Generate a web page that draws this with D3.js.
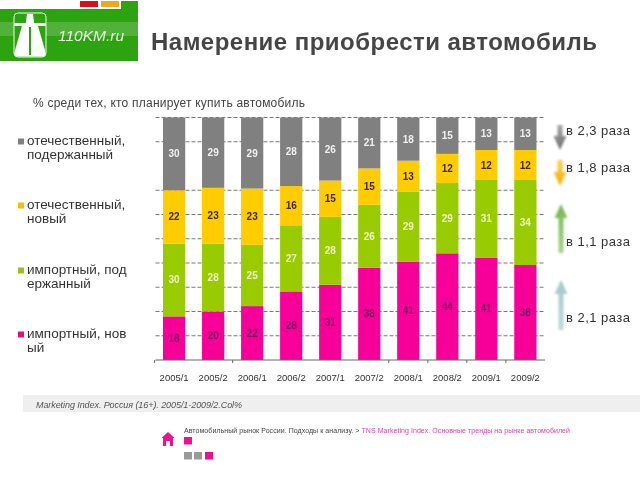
<!DOCTYPE html>
<html><head><meta charset="utf-8">
<script src="https://cdn.jsdelivr.net/npm/d3@7"></script>
<style>html,body{margin:0;padding:0;background:#fff}svg{display:block;filter:blur(0.35px)}text{font-family:"Liberation Sans",Arial,sans-serif}</style>
</head><body><svg id="c" width="640" height="480"></svg>
<script>
const categories=["2005/1","2005/2","2006/1","2006/2","2007/1","2007/2","2008/1","2008/2","2009/1","2009/2"];
const seriesKeys=["importNew","importUsed","domesticNew","domesticUsed"];
const importNew=[18,20,22,28,31,38,41,44,41,38];
const importUsed=[30,28,25,27,28,26,29,29,31,34];
const domesticNew=[22,23,23,16,15,15,13,12,12,12];
const domesticUsed=[30,29,29,28,26,21,18,15,13,13];
const seriesColors=["#f7009a","#99cc00","#ffcc00","#808080"];
const labelColors=["#7a1060","#f2f7d0","#3a2a00","#f0f0f0"];
const gridValues=[10,20,30,40,50,60,70,90,100];
const tickIndexes=[0,2,6,7,8,9];
const legendLines=[["отечественный,","подержанный"],["отечественный,","новый"],["импортный, под","ержанный"],["импортный, нов","ый"]];
const legendColors=["#808080","#f2c200","#a3bd1f","#e0107f"];
const changes=["в 2,3 раза","в 1,8 раза","в 1,1 раза","в 2,1 раза"];
const titleText="Намерение приобрести автомобиль";
const subtitleText="% среди тех, кто планирует купить автомобиль";
const sourceText="Marketing Index. Россия (16+). 2005/1-2009/2.Col%";
const crumbA="Автомобильный рынок России. Подходы к анализу. > ";
const crumbB="TNS Marketing Index. Основные тренды на рынке автомобилей";

const svg=d3.select("#c");
const defs=svg.append("defs");
function grad(id,c1,c2){const g=defs.append("linearGradient").attr("id",id).attr("x1",0).attr("x2",0).attr("y1",0).attr("y2",1);
 g.append("stop").attr("offset","0").attr("stop-color",c1);g.append("stop").attr("offset","1").attr("stop-color",c2);}
grad("g1","#a8a8a8","#6e6e6e");grad("g2","#ffd050","#f5b000");grad("g3","#74b850","#a8d488");grad("g4","#a4c8cc","#c0d8dc");

// logo
svg.append("rect").attr("x",0).attr("y",9).attr("width",138).attr("height",52).attr("fill","#2ca40f");
svg.append("rect").attr("x",0).attr("y",22).attr("width",138).attr("height",14).attr("fill","#52b13a");
svg.append("rect").attr("x",80).attr("y",1).attr("width",18).attr("height",6).attr("fill","#d9101a");
svg.append("rect").attr("x",101).attr("y",1).attr("width",18).attr("height",6).attr("fill","#f0a818");
svg.append("rect").attr("x",121).attr("y",1).attr("width",17).attr("height",8).attr("fill","#2ca40f");
svg.append("rect").attr("x",14).attr("y",13).attr("width",32).attr("height",44).attr("rx",4).attr("fill","#2ca40f").attr("stroke","#f0f8ec").attr("stroke-width",1);
svg.append("rect").attr("x",14).attr("y",23).attr("width",32).attr("height",3).attr("fill","#fff");
svg.append("path").attr("d","M27 14L33 14L34.500 26L38 26L45.500 52Q46 56.500 42 56.500L18 56.500Q14 56.500 14.500 52L22 26L25.500 26Z").attr("fill","#fff");
svg.append("rect").attr("x",29).attr("y",27).attr("width",2).attr("height",28).attr("fill","#2ca40f");
svg.append("text").attr("x",58).attr("y",41).attr("fill","#eef6e8").attr("font-size",15.500).attr("font-style","italic").attr("textLength",66).text("110KM.ru");

// titles
svg.append("text").attr("x",151).attr("y",50).attr("fill","#454545").attr("font-size",24).attr("font-weight","bold").attr("textLength",446).text(titleText);
svg.append("text").attr("x",33).attr("y",107).attr("fill","#444").attr("font-size",12).attr("textLength",272).text(subtitleText);

// chart
const x=d3.scaleBand().domain(categories).range([163,536.500]).paddingInner(0.43).paddingOuter(0);
const y=d3.scaleLinear().domain([0,100]).range([360,117.500]);
svg.append("g").selectAll("line").data(gridValues).join("line")
 .attr("x1",155.500).attr("x2",545).attr("y1",d=>y(d)).attr("y2",d=>y(d))
 .attr("stroke","#555").attr("stroke-width",0.8).attr("stroke-dasharray","4 2");
const rows=categories.map((c,i)=>({c,importNew:importNew[i],importUsed:importUsed[i],domesticNew:domesticNew[i],domesticUsed:domesticUsed[i]}));
const stack=d3.stack().keys(seriesKeys).offset(d3.stackOffsetExpand)(rows);
stack.forEach((s,k)=>{
 const g=svg.append("g");
 g.selectAll("rect").data(s).join("rect")
  .attr("x",d=>x(d.data.c)).attr("width",x.bandwidth())
  .attr("y",d=>y(d[1]*100)).attr("height",d=>y(d[0]*100)-y(d[1]*100)).attr("fill",seriesColors[k]);
 g.selectAll("text").data(s).join("text")
  .attr("x",d=>x(d.data.c)+x.bandwidth()/2).attr("y",d=>(y(d[0]*100)+y(d[1]*100))/2+3.500)
  .attr("text-anchor","middle").attr("font-size",10).attr("font-weight","bold").attr("fill",labelColors[k])
  .text(d=>d.data[seriesKeys[k]]);
});
const axis=svg.append("g").attr("transform","translate(0,360)");
axis.append("line").attr("x1",155.500).attr("x2",545).attr("stroke","#666").attr("stroke-width",1);
const step=x.step(),edge=i=>x(categories[i])-(step-x.bandwidth())/2;
axis.selectAll("line.t").data(tickIndexes).join("line").attr("class","t")
 .attr("x1",edge).attr("x2",edge).attr("y1",0).attr("y2",3).attr("stroke","#666");
const ax=svg.append("g").attr("transform","translate(0,374)").call(d3.axisBottom(x).tickSize(0).tickPadding(0));
ax.select(".domain").remove();
ax.selectAll("text").attr("font-size",9.500).attr("fill","#333").attr("font-family",'"Liberation Sans",Arial,sans-serif');

// legend
const legendY=[145,209,274,338];
legendLines.forEach((l,i)=>{
 svg.append("rect").attr("x",18).attr("y",legendY[i]-6.500).attr("width",6).attr("height",6).attr("fill",legendColors[i]);
 l.forEach((t,j)=>svg.append("text").attr("x",27).attr("y",legendY[i]+j*14).attr("font-size",13.500).attr("fill","#333").text(t));
});

// arrows
const arrowDefs=[[125,150,"g1",560,1],[160,186,"g2",560,1],[253,204,"g3",561,-1],[330,280,"g4",561,-1]];
arrowDefs.forEach(([a,b,g,cx,dir])=>{
 const h=dir*14;
 const p=[[cx-2.500,a],[cx+2.500,a],[cx+2.500,b-h],[cx+6.500,b-h],[cx,b],[cx-6.500,b-h],[cx-2.500,b-h]];
 svg.append("path").attr("d",d3.line()(p)+"Z").attr("fill",`url(#${g})`).style("filter","blur(1px)");
});
const changeY=[135,172,246,322];
changes.forEach((t,i)=>svg.append("text").attr("x",566).attr("y",changeY[i]).attr("font-size",13).attr("fill","#333").attr("textLength",64).text(t));

// footer
svg.append("rect").attr("x",23).attr("y",395).attr("width",617).attr("height",17).attr("fill","#efefef");
svg.append("text").attr("x",36).attr("y",408).attr("font-size",9).attr("font-style","italic").attr("fill","#555").attr("textLength",206).text(sourceText);
const crumb=svg.append("text").attr("x",184).attr("y",433).attr("font-size",7);
crumb.append("tspan").attr("fill","#444").text(crumbA);
crumb.append("tspan").attr("fill","#e0409f").text(crumbB);
crumb.attr("textLength",386);
svg.append("path").attr("d","M168 432L174.500 438L173 438L173 446L170 446L170 441L166 441L166 446L163 446L163 438L161.500 438Z").attr("fill","#f0108f");
[[184,437,"#f0108f"],[184,452,"#999"],[194,452,"#999"],[205,452,"#f0108f"]].forEach(([a,b,c])=>svg.append("rect").attr("x",a).attr("y",b).attr("width",8).attr("height",7.500).attr("fill",c));
</script></body></html>
